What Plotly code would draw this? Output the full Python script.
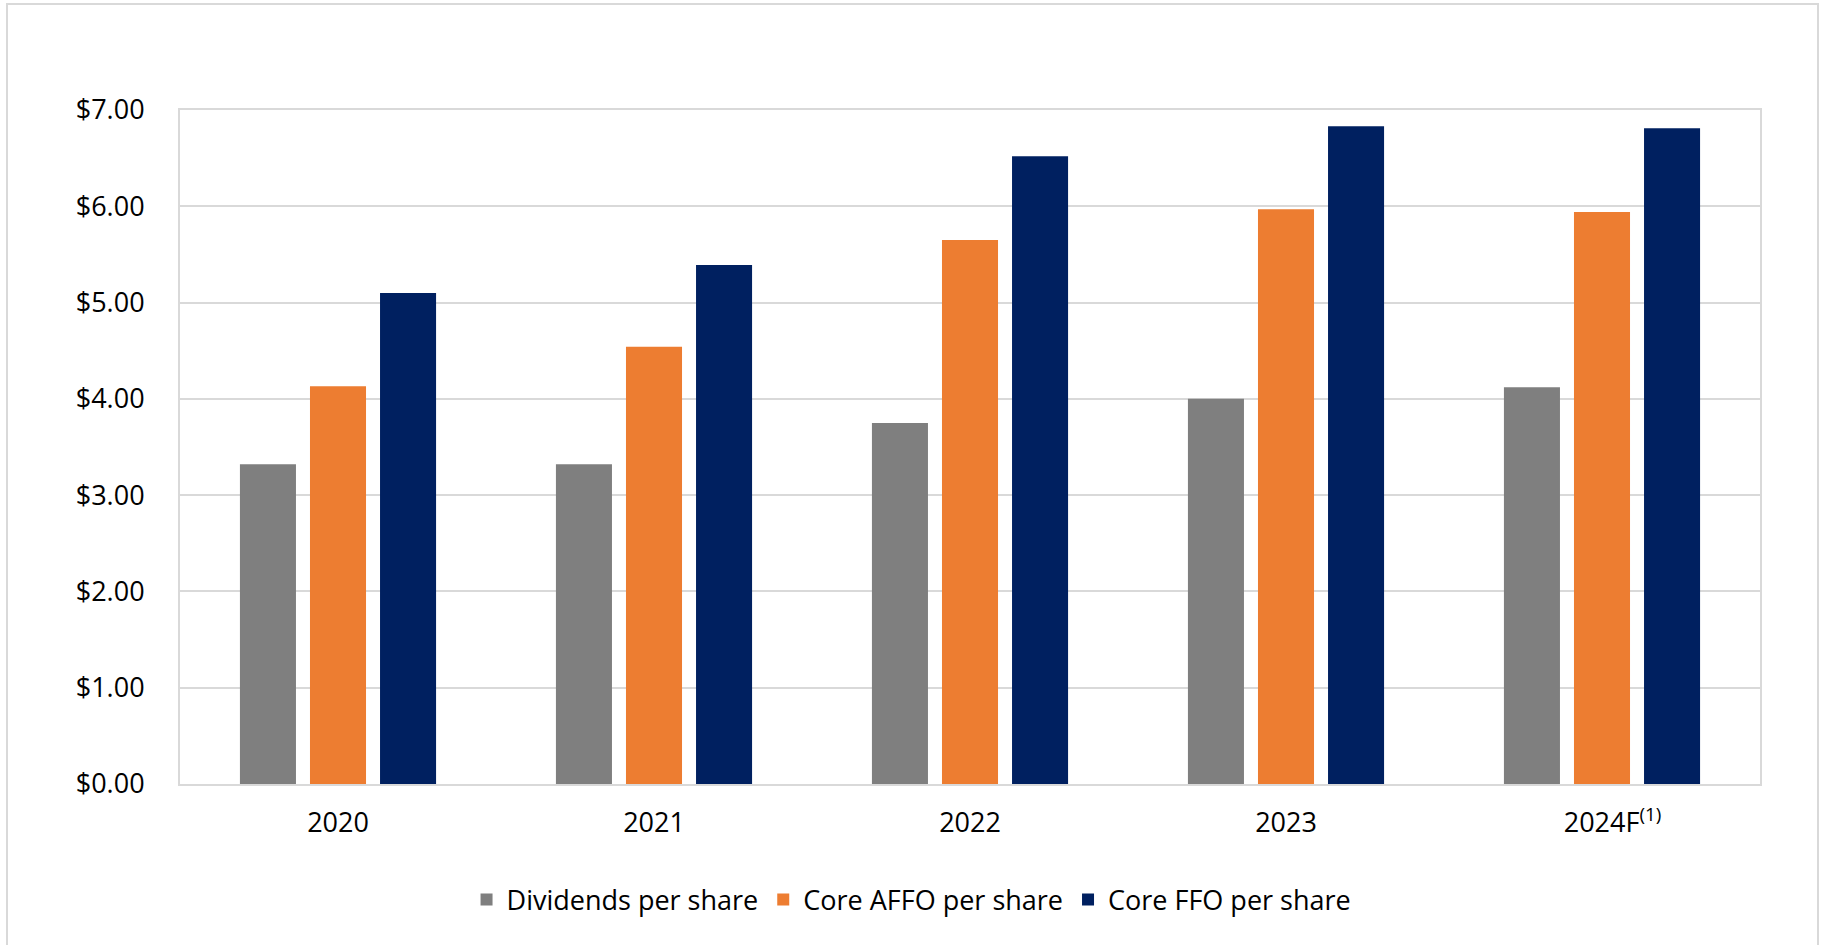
import plotly.graph_objects as go

# Fiscal years shown on the category axis
years = ["2020", "2021", "2022", "2023", "2024F"]
year_labels = ["2020", "2021", "2022", "2023", "&nbsp;&nbsp;&nbsp;2024F<sup>(1)</sup>"]

# Per-share amounts (USD)
dividends = [3.32, 3.32, 3.75, 4.00, 4.12]
core_affo = [4.13, 4.54, 5.65, 5.97, 5.94]
core_ffo = [5.10, 5.39, 6.52, 6.83, 6.81]

series_names = ["Dividends per share", "Core AFFO per share", "Core FFO per share"]
series_colors = ["#7f7f7f", "#ed7d31", "#002060"]

y_ticks = [0, 1, 2, 3, 4, 5, 6, 7]
y_tick_text = [f"${v:.2f}" for v in y_ticks]

FONT = "Open Sans, Noto Sans, sans-serif"
GRID = "#d9d9d9"

fig = go.Figure()
for name, color, values in zip(series_names, series_colors, [dividends, core_affo, core_ffo]):
    fig.add_trace(go.Bar(
        x=years,
        y=values,
        name=name,
        marker=dict(color=color, line=dict(width=0)),
    ))

fig.update_layout(
    width=1825,
    height=945,
    margin=dict(l=180, r=65, t=110, b=161),
    paper_bgcolor="white",
    plot_bgcolor="white",
    barmode="group",
    bargap=0.335,
    bargroupgap=0.2,
    font=dict(family=FONT, size=27, color="#000000"),
    showlegend=True,
    legend=dict(
        orientation="h",
        x=0.463,
        xanchor="center",
        y=-0.172,
        yanchor="middle",
        font=dict(family=FONT, size=27, color="#000000"),
        itemwidth=30,
        tracegroupgap=0,
    ),
    xaxis=dict(
        tickmode="array",
        tickvals=years,
        ticktext=year_labels,
        showgrid=False,
        showline=True,
        linecolor=GRID,
        linewidth=2,
        mirror=True,
        ticks="",
        tickfont=dict(family=FONT, size=27, color="#000000"),
        ticklabelstandoff=14,
    ),
    yaxis=dict(
        range=[0, 7],
        tickmode="array",
        tickvals=y_ticks,
        ticktext=y_tick_text,
        showgrid=True,
        gridcolor=GRID,
        gridwidth=2,
        showline=True,
        linecolor=GRID,
        linewidth=2,
        mirror=True,
        zeroline=False,
        ticks="",
        tickfont=dict(family=FONT, size=27, color="#000000"),
        ticklabelstandoff=28,
    ),
)

# Frame around the whole chart
fig.add_shape(
    type="rect",
    xref="paper", yref="paper",
    x0=(7 - 180) / 1580, x1=(1818 - 180) / 1580,
    y0=(784 - 960) / 674, y1=(784 - 4) / 674,
    line=dict(color=GRID, width=2),
    fillcolor="rgba(0,0,0,0)",
    layer="below",
)

fig.write_html("out.html")
